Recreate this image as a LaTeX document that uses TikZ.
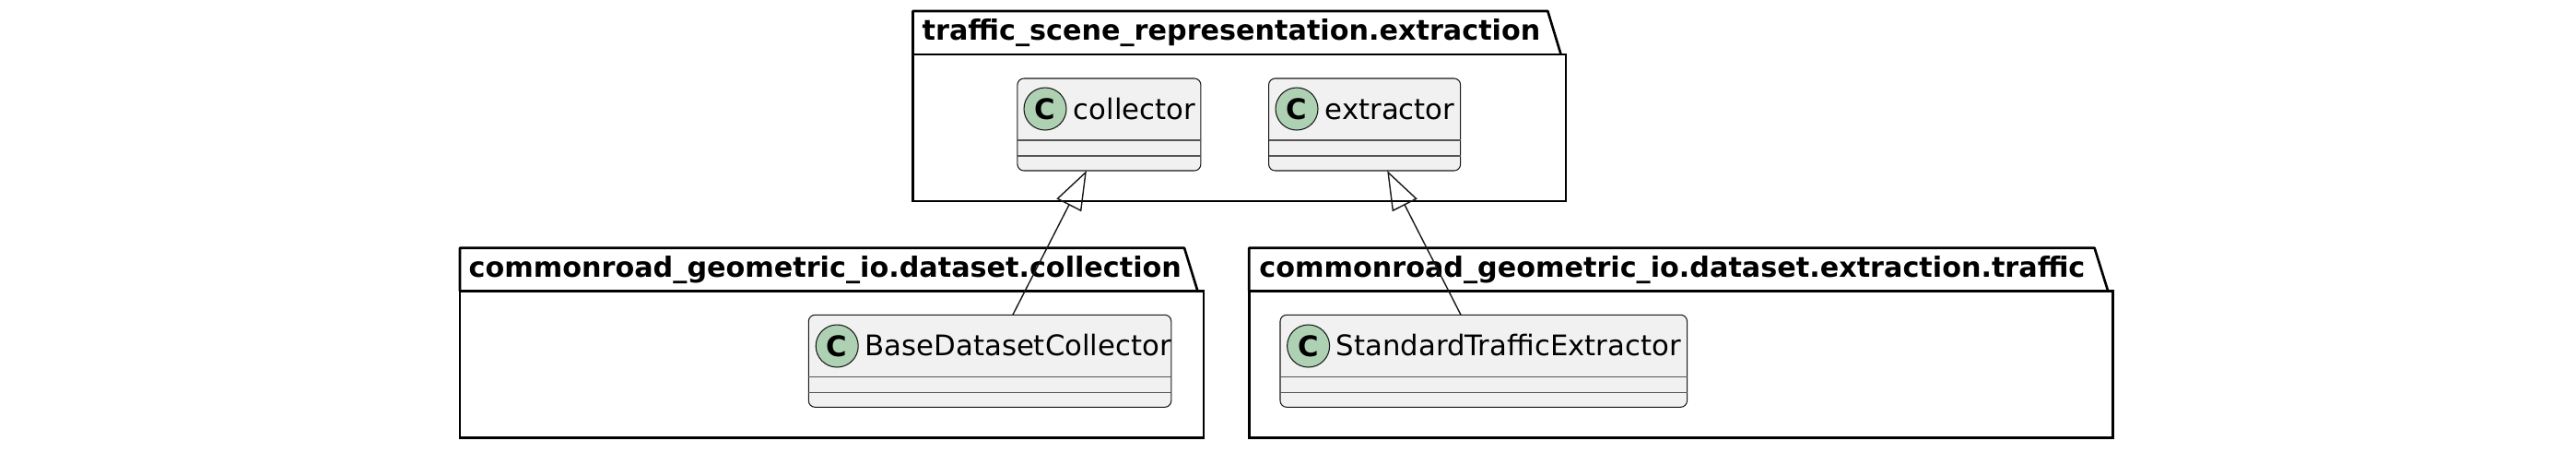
\documentclass[tikz,border=0pt]{standalone}
\usepackage{fontspec}
\setmainfont{DejaVu Sans}
\usepackage{tikz}
\usetikzlibrary{arrows.meta,calc}
\definecolor{inkline}{HTML}{181818}
\definecolor{dividerline}{HTML}{555555}
\definecolor{classfill}{HTML}{F1F1F1}
\definecolor{badgefill}{HTML}{ADD1B2}

\begin{document}
\begin{tikzpicture}[font=\fontsize{8.75}{10}\selectfont,
  package/.style={draw=black,line width=0.75pt,inner sep=0,outer sep=0},
  packagetab/.style={draw=black,line width=0.75pt,line join=round},
  packagename/.style={anchor=base west,inner sep=0,font=\fontsize{8.6}{10}\selectfont\bfseries},
  classbox/.style={draw=inkline,fill=classfill,line width=0.3pt,rounded corners=0.7mm,minimum height=10mm,inner sep=0,outer sep=0},
  classname/.style={anchor=base west,inner sep=0,text=black},
  badge/.style={circle,draw=inkline,fill=badgefill,line width=0.3pt,minimum size=4.6mm,inner sep=0,font=\fontsize{8.75}{10}\selectfont\bfseries},
  divider/.style={draw=dividerline,line width=0.3pt},
  extends/.style={draw=inkline,line width=0.4pt,-{Triangle[open,fill=none,length=4.2mm,width=3mm]}}]
  \useasboundingbox (0,0) rectangle (27.95,-4.9);
  % packages
  \node[package,minimum width=70.84mm,minimum height=15.9mm] (extraction) at (13.447,-1.385) {};
  \draw[packagetab] (extraction.north west) -- ++(0,0.47) -- ++(6.888,0) -- ++(0.143,-0.47);
  \node[packagename] (extractiontitle) at (10.0,-0.433) {traffic\_scene\_representation.extraction};
  \node[package,minimum width=80.7mm,minimum height=15.86mm] (collection) at (9.025,-3.95) {};
  \draw[packagetab] (collection.north west) -- ++(0,0.47) -- ++(7.86,0) -- ++(0.145,-0.47);
  \node[packagename] (collectiontitle) at (5.08,-3.0) {commonroad\_geometric\_io.dataset.collection};
  \node[package,minimum width=93.75mm,minimum height=15.86mm] (traffic) at (18.24,-3.95) {};
  \draw[packagetab] (traffic.north west) -- ++(0,0.47) -- ++(9.173,0) -- ++(0.147,-0.47);
  \node[packagename] (traffictitle) at (13.657,-3.0) {commonroad\_geometric\_io.dataset.extraction.traffic};
  % classes
  \node[classbox,minimum width=19.9mm] (collector) at (12.034,-1.35) {};
  \node[badge] (collectorbadge) at (11.34,-1.18) {C};
  \node[classname] (collectorname) at (11.64,-1.29) {collector};
  \draw[divider] ($(collector.north west)!0.67!(collector.south west)$) -- ($(collector.north east)!0.67!(collector.south east)$);
  \draw[divider] ($(collector.north west)!0.84!(collector.south west)$) -- ($(collector.north east)!0.84!(collector.south east)$);
  \node[classbox,minimum width=20.81mm] (extractor) at (14.806,-1.35) {};
  \node[badge] (extractorbadge) at (14.07,-1.18) {C};
  \node[classname] (extractorname) at (14.37,-1.29) {extractor};
  \draw[divider] ($(extractor.north west)!0.67!(extractor.south west)$) -- ($(extractor.north east)!0.67!(extractor.south east)$);
  \draw[divider] ($(extractor.north west)!0.84!(extractor.south west)$) -- ($(extractor.north east)!0.84!(extractor.south east)$);
  \node[classbox,minimum width=39.35mm] (basecollector) at (10.7405,-3.913) {};
  \node[badge] (basecollectorbadge) at (9.082,-3.75) {C};
  \node[classname] (basecollectorname) at (9.38,-3.85) {BaseDatasetCollector};
  \draw[divider] ($(basecollector.north west)!0.67!(basecollector.south west)$) -- ($(basecollector.north east)!0.67!(basecollector.south east)$);
  \draw[divider] ($(basecollector.north west)!0.84!(basecollector.south west)$) -- ($(basecollector.north east)!0.84!(basecollector.south east)$);
  \node[classbox,minimum width=44.15mm] (standardextractor) at (16.0975,-3.913) {};
  \node[badge] (standardextractorbadge) at (14.196,-3.75) {C};
  \node[classname] (standardextractorname) at (14.49,-3.85) {StandardTrafficExtractor};
  \draw[divider] ($(standardextractor.north west)!0.67!(standardextractor.south west)$) -- ($(standardextractor.north east)!0.67!(standardextractor.south east)$);
  \draw[divider] ($(standardextractor.north west)!0.84!(standardextractor.south west)$) -- ($(standardextractor.north east)!0.84!(standardextractor.south east)$);
  % inheritance
  \draw[extends] ($(basecollector.north west)!0.563!(basecollector.north east)$) -- ($(collector.south west)!0.377!(collector.south east)$);
  \draw[extends] ($(standardextractor.north west)!0.444!(standardextractor.north east)$) -- ($(extractor.south west)!0.618!(extractor.south east)$);
\end{tikzpicture}
\end{document}
